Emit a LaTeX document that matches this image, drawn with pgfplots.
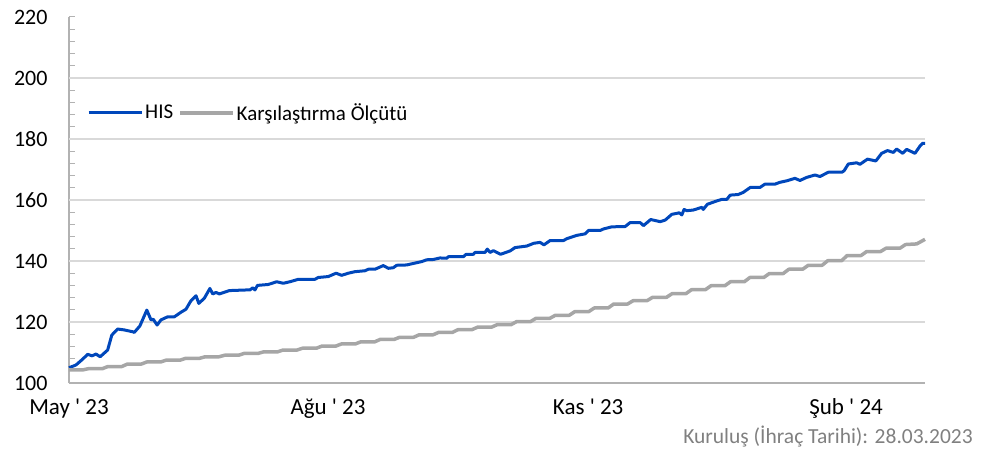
\documentclass[border=0pt]{standalone}
\usepackage{pgfplots}
\pgfplotsset{compat=1.18}
\usepackage{fontspec}
\setmainfont{Carlito}
\definecolor{hisblue}{RGB}{0,71,187}
\definecolor{bmgray}{RGB}{166,166,166}
\definecolor{gridgray}{RGB}{217,217,217}
\definecolor{axgray}{RGB}{178,178,178}
\definecolor{footgray}{RGB}{128,128,128}
\newcommand{\q}{\textquotesingle}
\begin{document}
\begin{tikzpicture}
\useasboundingbox (-69pt,-69pt) rectangle (918pt,383pt);
\begin{axis}[
  scale only axis, width=856pt, height=366pt,
  xmin=0, xmax=308, ymin=100, ymax=220,
  axis lines*=left,
  axis line style={draw=axgray, line width=1.2pt},
  ytick={100,120,...,220},
  minor ytick={104,108,...,216},
  tick align=inside,
  major tick length=6pt, minor tick length=6pt,
  y tick style={draw=axgray, line width=1pt},
  x tick style={draw=none},
  xtick={0,93.2,186.8,279.6},
  xticklabels={May \q{} 23, Ağu \q{} 23, Kas \q{} 23, Şub \q{} 24},
  extra y ticks={120,140,160,180,200},
  extra y tick labels={},
  extra y tick style={grid=major, major tick length=0pt},
  grid style={draw=gridgray, line width=1.2pt},
  yticklabel style={font=\fontsize{22}{26}\selectfont, text=black, xshift=-18pt},
  xticklabel style={font=\fontsize{23}{27}\selectfont, text=black, yshift=-12pt},
  /pgf/number format/assume math mode=true,
  legend style={draw=none, fill=none, at={(rel axis cs:0.021,0.738)}, anchor=west,
    inner sep=0pt, font=\fontsize{21}{25}\selectfont,
    /tikz/every even column/.append style={column sep=3pt}},
  legend columns=2,
  legend image code/.code={\draw[#1] (0pt,0pt) -- (53pt,0pt);},
  clip=false,
]
\addplot[hisblue, line width=3pt, line join=round] coordinates {
(0,105.0) (2.5,105.9) (4.9,107.8) (6.7,109.4) (8.3,108.9) (9.7,109.5) (11.2,108.6)
(13.9,110.8) (15.4,115.7) (17.5,117.7) (19.9,117.4) (22.9,116.8) (23.5,116.6) (25.5,118.7)
(28.0,123.9) (29.5,120.7) (30.3,120.9) (31.7,119.0) (33.1,120.7) (35.5,121.7) (37.9,121.7)
(40.3,123.2) (42.1,124.2) (43.9,127.0) (45.7,128.6) (46.7,126.1) (48.7,127.8) (50.7,131.0)
(51.7,129.2) (52.9,129.7) (54.1,129.2) (57.7,130.3) (63.7,130.5) (65.1,130.5) (66.1,131.2)
(66.9,130.5) (67.8,132.0) (71.7,132.3) (74.7,133.2) (77.1,132.7) (79.5,133.2) (82.5,134.0)
(88.5,134.0) (89.7,134.6) (93.3,134.9) (96.1,136.0) (98.1,135.3) (100.5,136.0) (102.9,136.5)
(106.5,136.8) (107.7,137.3) (110.1,137.3) (113.1,138.5) (114.9,137.6) (116.7,137.8) (117.9,138.6)
(121.5,138.7) (123.9,139.2) (126.9,139.8) (128.7,140.4) (131.1,140.5) (133.5,141.0) (135.9,140.9)
(136.5,141.4) (141.9,141.4) (142.9,142.2) (145.5,142.2) (146.1,142.8) (149.7,142.8) (150.5,143.9)
(151.5,142.8) (152.7,143.4) (155.3,142.2) (158.7,143.3) (160.5,144.4) (164.7,144.9) (167.2,145.8)
(169.5,146.1) (170.9,145.3) (173.1,146.7) (177.9,146.7) (179.1,147.3) (182.7,148.4) (185.7,148.9)
(186.9,150.0) (191.1,150.0) (192.3,150.5) (195.3,151.2) (200.1,151.3) (201.9,152.6) (205.5,152.6)
(206.7,151.6) (209.3,153.6) (212.7,152.9) (214.5,153.4) (216.9,155.3) (219.6,155.8) (220.5,155.1)
(221.3,156.9) (222.3,156.5) (224.6,156.7) (227.7,157.6) (228.2,156.9) (229.7,158.6) (233.1,159.7)
(234.9,160.2) (236.7,160.2) (237.9,161.6) (240.8,161.8) (242.6,162.5) (245.1,164.1) (248.6,164.1)
(250.4,165.2) (254.0,165.2) (255.8,165.8) (258.3,166.3) (261.2,167.1) (263.0,166.4) (265.4,167.4)
(268.4,168.2) (270.2,167.7) (273.2,169.1) (278.1,169.1) (278.9,169.6) (280.4,171.8) (283.4,172.2)
(284.6,171.7) (287.3,173.4) (290.3,172.8) (292.4,175.3) (294.5,176.2) (296.6,175.6) (297.8,176.7)
(300.0,175.3) (301.4,176.6) (304.4,175.3) (306.2,177.7) (307.2,178.6) (308.0,178.6)
};
\addlegendentry{HIS}
\addplot[bmgray, line width=3.5pt, line join=round] coordinates {
(0,104.3) (5,104.3) (7,104.7) (12,104.7) (14,105.4) (19,105.4) (21,106.2) (26,106.2)
(28,106.9) (33,106.9) (35,107.5) (40,107.5) (42,108.1) (47,108.1) (49,108.6) (54,108.6)
(56,109.1) (61,109.1) (63,109.7) (68,109.7) (70,110.2) (75,110.2) (77,110.8) (82,110.8)
(84,111.4) (89,111.4) (91,112.1) (96,112.1) (98,112.8) (103,112.8) (105,113.5) (110,113.5)
(112,114.3) (117,114.3) (119,115.0) (124,115.0) (126,115.8) (131,115.8) (133,116.6) (138,116.6)
(140,117.5) (145,117.5) (147,118.3) (152,118.3) (154,119.1) (159,119.1) (161,120.1) (166,120.1)
(168,121.2) (173,121.2) (175,122.2) (180,122.2) (182,123.4) (187,123.4) (189,124.6) (194,124.6)
(196,125.9) (201,125.9) (203,127.0) (208,127.0) (210,128.1) (215,128.1) (217,129.3) (222,129.3)
(224,130.6) (229,130.6) (231,131.9) (236,131.9) (238,133.2) (243,133.2) (245,134.6) (250,134.6)
(252,135.9) (257,135.9) (259,137.3) (264,137.3) (266,138.6) (271,138.6) (273,140.1) (278,140.1)
(280,141.8) (285,141.8) (287,143.1) (292,143.1) (294,144.2) (299,144.2) (301,145.4) (305,145.6)
(308,147.1)
};
\addlegendentry{Karşılaştırma Ölçütü}
\end{axis}
\node[anchor=base east, text=footgray, font=\fontsize{21.5}{25}\selectfont, inner sep=0pt] at (904pt,-60pt) {Kuruluş (İhraç Tarihi): 28.03.2023};
\end{tikzpicture}
\end{document}
